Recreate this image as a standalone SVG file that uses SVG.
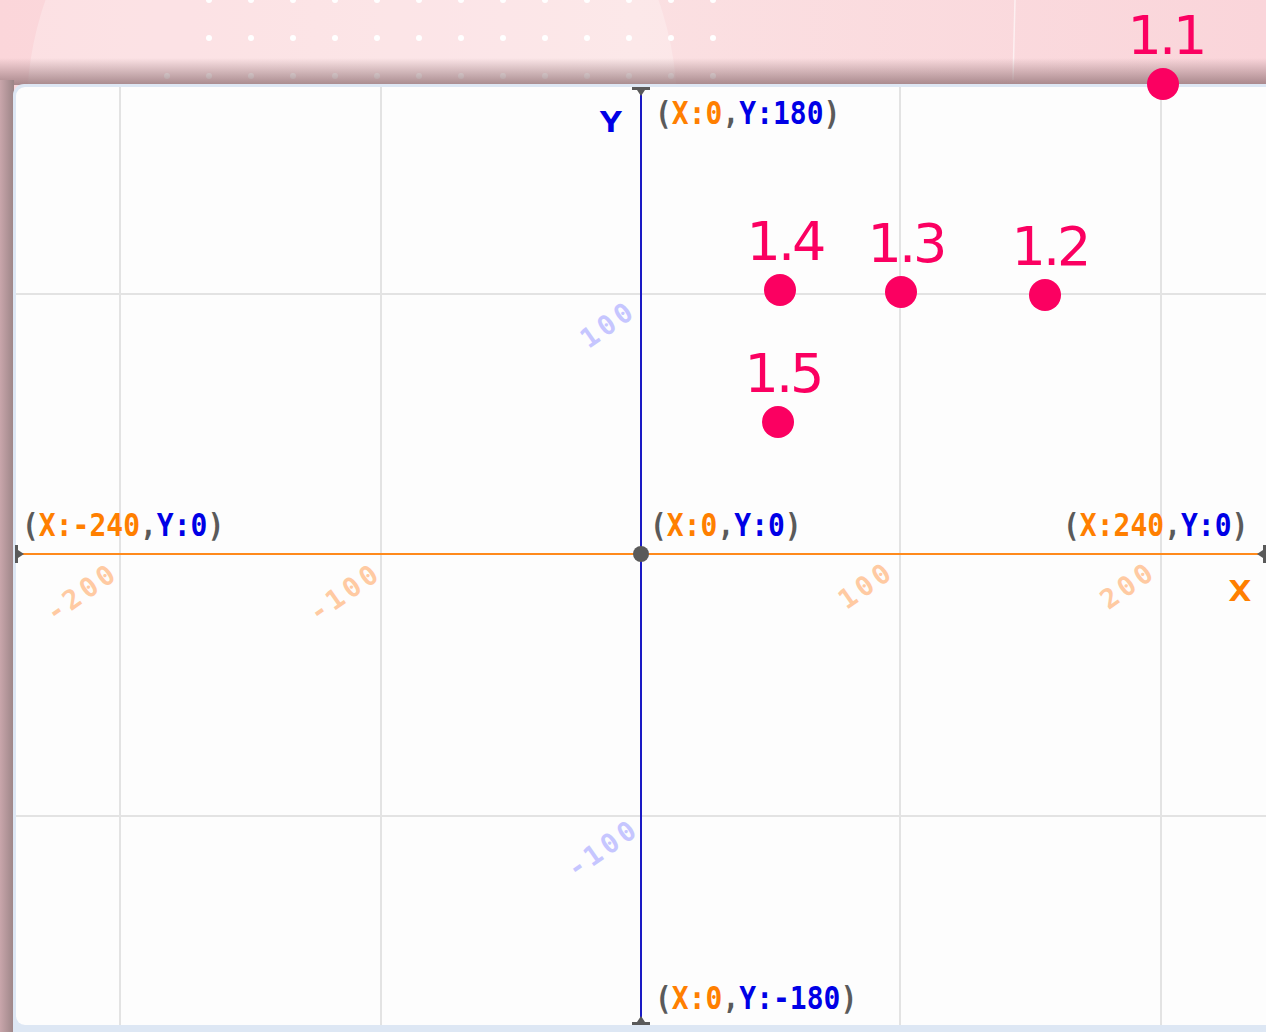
<svg xmlns="http://www.w3.org/2000/svg" width="1266" height="1032" viewBox="0 0 1266 1032">
  <style>
    .grid { stroke: #e3e3e3; stroke-width: 2; }
    .coord { font-family: "DejaVu Sans Mono", "Liberation Mono", monospace; font-size: 28px; font-weight: bold; }
    .g { fill: #5a5a5a; }
    .o { fill: #ff7f00; }
    .b { fill: #0000e6; }
    .tickx { font-family: "DejaVu Sans Mono", "Liberation Mono", monospace; font-size: 27px; font-weight: bold; fill: #ffcaa2; letter-spacing: 4px; }
    .ticky { font-family: "DejaVu Sans Mono", "Liberation Mono", monospace; font-size: 27px; font-weight: bold; fill: #c6c6ff; letter-spacing: 4px; }
    .pt { fill: #fb0061; }
    .ptl { font-family: "DejaVu Sans", "Noto Sans", sans-serif; font-size: 54px; fill: #fb0061; letter-spacing: -3px; text-anchor: middle; }
    .dot { fill: #ffffff; }
    .marker { fill: #5a5a5a; }
  </style>
  <defs>
    <linearGradient id="topShadow" x1="0" y1="0" x2="0" y2="1">
      <stop offset="0" stop-color="#8c6c70" stop-opacity="0"/>
      <stop offset="1" stop-color="#8c6c70" stop-opacity="0.75"/>
    </linearGradient>
    <linearGradient id="leftShadow" x1="0" y1="0" x2="1" y2="0">
      <stop offset="0" stop-color="#c9a6ab"/>
      <stop offset="1" stop-color="#9b8486"/>
    </linearGradient>
    <linearGradient id="bgGrad" x1="0" y1="0" x2="1" y2="0">
      <stop offset="0" stop-color="#fbd6da"/>
      <stop offset="0.5" stop-color="#fbe0e2"/>
      <stop offset="1" stop-color="#fad5da"/>
    </linearGradient>
  </defs>

  <!-- background -->
  <g id="background">
    <rect x="0" y="0" width="1266" height="1032" fill="url(#bgGrad)"/>
    <circle cx="352" cy="108" r="325" fill="#ffffff" fill-opacity="0.25"/>
    <line x1="1015" y1="0" x2="1013" y2="80" stroke="#ffffff" stroke-opacity="0.6" stroke-width="1.5"/>
    <g id="dots">
      <circle class="dot" cx="209" cy="0" r="3"/><circle class="dot" cx="251" cy="0" r="3"/><circle class="dot" cx="293" cy="0" r="3"/><circle class="dot" cx="335" cy="0" r="3"/><circle class="dot" cx="377" cy="0" r="3"/><circle class="dot" cx="419" cy="0" r="3"/><circle class="dot" cx="461" cy="0" r="3"/><circle class="dot" cx="503" cy="0" r="3"/><circle class="dot" cx="545" cy="0" r="3"/><circle class="dot" cx="587" cy="0" r="3"/><circle class="dot" cx="629" cy="0" r="3"/><circle class="dot" cx="671" cy="0" r="3"/><circle class="dot" cx="713" cy="0" r="3"/>
      <circle class="dot" cx="209" cy="38" r="3"/><circle class="dot" cx="251" cy="38" r="3"/><circle class="dot" cx="293" cy="38" r="3"/><circle class="dot" cx="335" cy="38" r="3"/><circle class="dot" cx="377" cy="38" r="3"/><circle class="dot" cx="419" cy="38" r="3"/><circle class="dot" cx="461" cy="38" r="3"/><circle class="dot" cx="503" cy="38" r="3"/><circle class="dot" cx="545" cy="38" r="3"/><circle class="dot" cx="587" cy="38" r="3"/><circle class="dot" cx="629" cy="38" r="3"/><circle class="dot" cx="671" cy="38" r="3"/><circle class="dot" cx="713" cy="38" r="3"/>
      <circle class="dot" cx="167" cy="76" r="3"/><circle class="dot" cx="209" cy="76" r="3"/><circle class="dot" cx="251" cy="76" r="3"/><circle class="dot" cx="293" cy="76" r="3"/><circle class="dot" cx="335" cy="76" r="3"/><circle class="dot" cx="377" cy="76" r="3"/><circle class="dot" cx="419" cy="76" r="3"/><circle class="dot" cx="461" cy="76" r="3"/><circle class="dot" cx="503" cy="76" r="3"/><circle class="dot" cx="545" cy="76" r="3"/><circle class="dot" cx="587" cy="76" r="3"/><circle class="dot" cx="629" cy="76" r="3"/><circle class="dot" cx="671" cy="76" r="3"/><circle class="dot" cx="713" cy="76" r="3"/>
    </g>
    <rect x="0" y="58" width="1266" height="27" fill="url(#topShadow)"/>
    <rect x="0" y="80" width="14" height="952" fill="url(#leftShadow)"/>
  </g>

  <!-- canvas -->
  <g id="canvas">
    <rect x="13" y="84" width="1265" height="960" rx="11" fill="#dde7f4"/>
    <rect x="16" y="87" width="1260" height="938" rx="9" fill="#fdfdfd"/>
  </g>

  <!-- grid -->
  <g id="grid">
    <line class="grid" x1="120" y1="87" x2="120" y2="1025"/>
    <line class="grid" x1="381" y1="87" x2="381" y2="1025"/>
    <line class="grid" x1="900" y1="87" x2="900" y2="1025"/>
    <line class="grid" x1="1161" y1="87" x2="1161" y2="1025"/>
    <line class="grid" x1="16" y1="294" x2="1266" y2="294"/>
    <line class="grid" x1="16" y1="816" x2="1266" y2="816"/>
  </g>

  <!-- axes -->
  <g id="axes">
    <line x1="20" y1="554" x2="1260" y2="554" stroke="#ff8a1c" stroke-width="2"/>
    <line x1="641" y1="90" x2="641" y2="1020" stroke="#1a1ac4" stroke-width="2"/>
    <polygon class="marker" points="632,87 650,87 650,90 645,90 641,96 637,90 632,90"/>
    <polygon class="marker" points="632,1025 650,1025 650,1022 645,1022 641,1016 637,1022 632,1022"/>
    <polygon class="marker" points="15,545 15,563 18,563 18,558 24,554 18,550 18,545"/>
    <polygon class="marker" points="1266,545 1266,563 1263,563 1263,558 1257,554 1263,550 1263,545"/>
    <circle class="marker" cx="641" cy="554" r="8"/>
    <text class="coord b" transform="translate(611,132) scale(1.35,1)" font-size="34" font-weight="normal" text-anchor="middle">Y</text>
    <text class="coord o" transform="translate(1240,601) scale(1.35,1)" font-size="33" font-weight="normal" text-anchor="middle">X</text>
  </g>

  <!-- coordinate labels -->
  <g id="coord-labels">
    <text class="coord" transform="translate(655,124) scale(1,1.12)" font-size="27.6"><tspan class="g">(</tspan><tspan class="o">X:0</tspan><tspan class="g">,</tspan><tspan class="b">Y:180</tspan><tspan class="g">)</tspan></text>
    <text class="coord" transform="translate(22,536) scale(1,1.12)" font-size="28.2"><tspan class="g">(</tspan><tspan class="o">X:-240</tspan><tspan class="g">,</tspan><tspan class="b">Y:0</tspan><tspan class="g">)</tspan></text>
    <text class="coord" transform="translate(650,536) scale(1,1.12)" font-size="26.3"><tspan class="g">(</tspan><tspan class="o">X:0</tspan><tspan class="g">,</tspan><tspan class="b">Y:0</tspan><tspan class="g">)</tspan></text>
    <text class="coord" transform="translate(1063,536) scale(1,1.12)" font-size="28.2"><tspan class="g">(</tspan><tspan class="o">X:240</tspan><tspan class="g">,</tspan><tspan class="b">Y:0</tspan><tspan class="g">)</tspan></text>
    <text class="coord" transform="translate(655,1009) scale(1,1.12)" font-size="28"><tspan class="g">(</tspan><tspan class="o">X:0</tspan><tspan class="g">,</tspan><tspan class="b">Y:-180</tspan><tspan class="g">)</tspan></text>
  </g>

  <!-- tick labels -->
  <g id="tick-labels">
    <text class="tickx" transform="translate(82,592) rotate(-35)" text-anchor="middle" dominant-baseline="central">-200</text>
    <text class="tickx" transform="translate(345,592) rotate(-35)" text-anchor="middle" dominant-baseline="central">-100</text>
    <text class="tickx" transform="translate(866,585) rotate(-35)" text-anchor="middle" dominant-baseline="central">100</text>
    <text class="tickx" transform="translate(1128,585) rotate(-35)" text-anchor="middle" dominant-baseline="central">200</text>
    <text class="ticky" transform="translate(608,324) rotate(-35)" text-anchor="middle" dominant-baseline="central">100</text>
    <text class="ticky" transform="translate(603,848) rotate(-35)" text-anchor="middle" dominant-baseline="central">-100</text>
  </g>

  <!-- points -->
  <g id="p1-1"><circle class="pt" cx="1163" cy="84" r="16"/><text class="ptl" x="1166" y="54">1.1</text></g>
  <g id="p1-2"><circle class="pt" cx="1045" cy="295" r="16"/><text class="ptl" x="1050" y="265">1.2</text></g>
  <g id="p1-3"><circle class="pt" cx="901" cy="292" r="16"/><text class="ptl" x="906" y="262">1.3</text></g>
  <g id="p1-4"><circle class="pt" cx="780" cy="290" r="16"/><text class="ptl" x="785" y="260">1.4</text></g>
  <g id="p1-5"><circle class="pt" cx="778" cy="422" r="16"/><text class="ptl" x="783" y="392">1.5</text></g>
</svg>
